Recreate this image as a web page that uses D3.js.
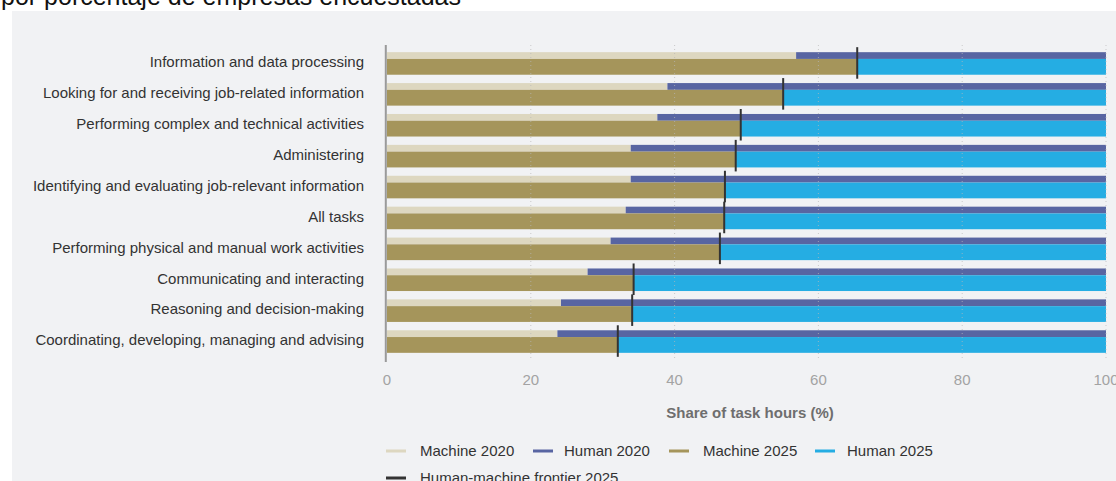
<!DOCTYPE html>
<html>
<head>
<meta charset="utf-8">
<script src="https://cdn.jsdelivr.net/npm/d3@7"></script>
<style>
  html, body { margin: 0; padding: 0; background: #ffffff; }
  svg { display: block; }
  text { font-family: "Liberation Sans", Arial, sans-serif; }
</style>
</head>
<body>
<svg id="chart" width="1116" height="481"></svg>
<script>
// Task categories, top to bottom
const categories = [
  "Information and data processing",
  "Looking for and receiving job-related information",
  "Performing complex and technical activities",
  "Administering",
  "Identifying and evaluating job-relevant information",
  "All tasks",
  "Performing physical and manual work activities",
  "Communicating and interacting",
  "Reasoning and decision-making",
  "Coordinating, developing, managing and advising"
];

// Machine share of task hours (%); the human share is the remainder to 100
const machine2020 = [56.9, 39.0, 37.6, 33.9, 33.9, 33.2, 31.1, 27.9, 24.2, 23.7];
const machine2025 = [65.4, 55.1, 49.2, 48.5, 47.0, 46.9, 46.3, 34.3, 34.1, 32.1];

const xTicks = [0, 20, 40, 60, 80, 100];

const legendItems = [
  { label: "Machine 2020", color: "#ddd7c0" },
  { label: "Human 2020", color: "#5865a2" },
  { label: "Machine 2025", color: "#a5955b" },
  { label: "Human 2025", color: "#25ade3" },
  { label: "Human-machine frontier 2025", color: "#333333" }
];

const colors = {
  m2020: "#ddd7c0",
  h2020: "#5865a2",
  m2025: "#a5955b",
  h2025: "#25ade3",
  frontier: "#333333"
};

const rows = categories.map((c, i) => ({
  cat: c,
  m2020: machine2020[i],
  m2025: machine2025[i]
}));

const svg = d3.select("#chart");

// Panel background
svg.append("rect")
  .attr("x", 12).attr("y", 11)
  .attr("width", 1104).attr("height", 470)
  .attr("fill", "#f1f2f4");

// Heading line, partly clipped at the top edge
svg.append("text")
  .attr("x", 1).attr("y", 5)
  .attr("font-size", 25)
  .attr("fill", "#111")
  .text("por porcentaje de empresas encuestadas");

const x = d3.scaleLinear().domain([0, 100]).range([387, 1106]);
const y = d3.scaleBand().domain(categories).range([48, 357])
  .paddingInner(0.27).paddingOuter(0.135);

const band = y.bandwidth();
const topH = band * 0.3;      // 2020 bar thickness
const botH = band - topH;     // 2025 bar thickness

const g = svg.append("g");

// 2020 bars
g.selectAll(".m2020").data(rows).join("rect")
  .attr("x", x(0)).attr("y", d => y(d.cat))
  .attr("width", d => x(d.m2020) - x(0)).attr("height", topH)
  .attr("fill", colors.m2020);
g.selectAll(".h2020").data(rows).join("rect")
  .attr("x", d => x(d.m2020)).attr("y", d => y(d.cat))
  .attr("width", d => x(100) - x(d.m2020)).attr("height", topH)
  .attr("fill", colors.h2020);

// 2025 bars
g.selectAll(".m2025").data(rows).join("rect")
  .attr("x", x(0)).attr("y", d => y(d.cat) + topH)
  .attr("width", d => x(d.m2025) - x(0)).attr("height", botH)
  .attr("fill", colors.m2025);
g.selectAll(".h2025").data(rows).join("rect")
  .attr("x", d => x(d.m2025)).attr("y", d => y(d.cat) + topH)
  .attr("width", d => x(100) - x(d.m2025)).attr("height", botH)
  .attr("fill", colors.h2025);

// Dotted gridlines over the bars
const grid = svg.append("g");
grid.selectAll("line").data(xTicks.slice(1)).join("line")
  .attr("x1", d => x(d)).attr("x2", d => x(d))
  .attr("y1", 45).attr("y2", 361)
  .attr("stroke", "#b8b8b8")
  .attr("stroke-opacity", 0.7)
  .attr("stroke-width", 1)
  .attr("stroke-dasharray", "1,3");

// Human-machine frontier 2025 markers
g.selectAll(".frontier").data(rows).join("line")
  .attr("x1", d => x(d.m2025)).attr("x2", d => x(d.m2025))
  .attr("y1", d => y(d.cat) - 5)
  .attr("y2", d => y(d.cat) + band + 4)
  .attr("stroke", colors.frontier)
  .attr("stroke-width", 2);

// Left axis line
svg.append("line")
  .attr("x1", 385.8).attr("x2", 385.8)
  .attr("y1", 45).attr("y2", 362)
  .attr("stroke", "#9a9a9a").attr("stroke-width", 2);

// Category labels
svg.append("g").selectAll("text").data(categories).join("text")
  .attr("x", 364)
  .attr("y", d => y(d) + band / 2 - 1.5)
  .attr("dy", "0.35em")
  .attr("text-anchor", "end")
  .attr("font-size", 15)
  .attr("fill", "#333")
  .text(d => d);

// X axis tick labels
svg.append("g").selectAll("text").data(xTicks).join("text")
  .attr("x", d => x(d))
  .attr("y", 380)
  .attr("dy", "0.35em")
  .attr("text-anchor", "middle")
  .attr("font-size", 15)
  .attr("fill", "#a3a3a3")
  .text(d => d);

// Axis title
svg.append("text")
  .attr("x", 750).attr("y", 413)
  .attr("dy", "0.35em")
  .attr("text-anchor", "middle")
  .attr("font-size", 15)
  .attr("font-weight", "bold")
  .attr("fill", "#6e6e6e")
  .text("Share of task hours (%)");

// Legend
const legendPos = [
  { sx: 386, tx: 420, y: 451 },
  { sx: 533, tx: 564, y: 451 },
  { sx: 669, tx: 703, y: 451 },
  { sx: 815, tx: 847, y: 451 },
  { sx: 386, tx: 420, y: 478 }
];
const leg = svg.append("g").selectAll("g").data(legendItems).join("g");
leg.append("line")
  .attr("x1", (d, i) => legendPos[i].sx)
  .attr("x2", (d, i) => legendPos[i].sx + 20)
  .attr("y1", (d, i) => legendPos[i].y)
  .attr("y2", (d, i) => legendPos[i].y)
  .attr("stroke", d => d.color)
  .attr("stroke-width", 3);
leg.append("text")
  .attr("x", (d, i) => legendPos[i].tx)
  .attr("y", (d, i) => legendPos[i].y)
  .attr("dy", "0.35em")
  .attr("font-size", 15)
  .attr("fill", "#333")
  .text(d => d.label);
</script>
</body>
</html>
